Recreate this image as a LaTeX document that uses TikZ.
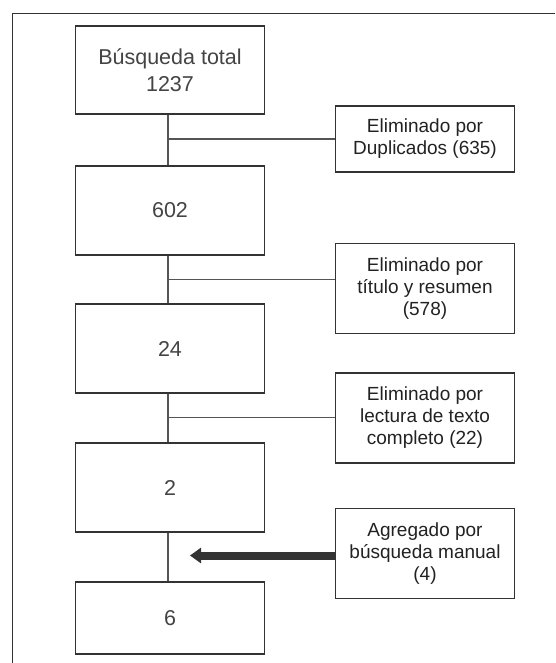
\documentclass[tikz,border=0pt]{standalone}
\usepackage{fontspec}
\setmainfont{Liberation Sans}
\usetikzlibrary{arrows.meta}
\definecolor{boxline}{HTML}{333333}
\definecolor{mainText}{HTML}{444444}
\definecolor{sideText}{HTML}{222222}
\definecolor{conn}{HTML}{555555}
\tikzset{
  mainbox/.style={draw=boxline, line width=1.8pt, minimum width=189pt, inner sep=0pt,
    align=center, text=mainText, font=\fontsize{21.5}{26.5}\selectfont},
  sidebox/.style={draw=boxline, line width=1.5pt, minimum width=179pt, inner sep=0pt,
    align=center, text=sideText, font=\fontsize{19}{22}\selectfont},
  connline/.style={draw=conn, line width=1.1pt},
  bigarrow/.style={draw=boxline, line width=8pt, -{Triangle[length=11pt,width=15pt]}},
  frameline/.style={draw=boxline, line width=1.2pt}
}
\begin{document}
\begin{tikzpicture}[x=1pt,y=-1pt]
\useasboundingbox (0,0) rectangle (555,663);
\fill[white] (0,0) rectangle (555,663);
\draw[frameline] (12.5,663) -- (12.5,13.5) -- (555,13.5);
% main boxes
\node[mainbox, minimum height=88pt] (b1) at (170,70) {Búsqueda total\\1237};
\node[mainbox, minimum height=89pt] (b2) at (170,210.5) {602};
\node[mainbox, minimum height=89pt] (b3) at (170,348.7) {24};
\node[mainbox, minimum height=89pt] (b4) at (170,487.8) {2};
\node[mainbox, minimum height=72pt] (b5) at (170,618.3) {6};
% side boxes
\node[sidebox, minimum height=66pt] (s1) at (425,139) {Eliminado por\\Duplicados (635)};
\node[sidebox, minimum height=90pt] (s2) at (425,288.7) {Eliminado por\\título y resumen\\(578)};
\node[sidebox, minimum height=90pt] (s3) at (425,418) {Eliminado por\\lectura de texto\\completo (22)};
\node[sidebox, minimum height=90pt] (s4) at (425,553.7) {Agregado por\\búsqueda manual\\(4)};
% junctions
\coordinate (j1) at (168,139);
\coordinate (j2) at (168,279.3);
\coordinate (j3) at (168,417.3);
\coordinate (tip) at (190,555.5);
% connectors
\draw[connline] (b1.south -| j1) -- (b2.north -| j1);
\draw[connline] (b2.south -| j2) -- (b3.north -| j2);
\draw[connline] (b3.south -| j3) -- (b4.north -| j3);
\draw[connline] (b4.south -| j3) -- (b5.north -| j3);
\draw[connline] (j1) -- (j1 -| s1.west);
\draw[connline] (j2) -- (j2 -| s2.west);
\draw[connline] (j3) -- (j3 -| s3.west);
\draw[bigarrow] (s4.west |- tip) -- (tip);
\end{tikzpicture}
\end{document}
